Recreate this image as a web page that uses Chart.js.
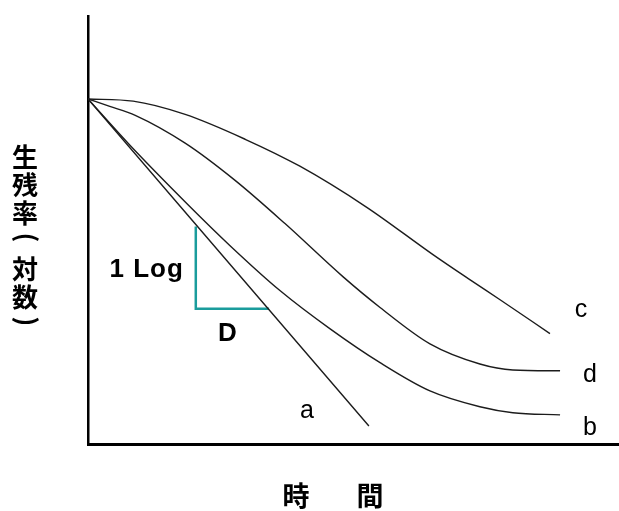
<!DOCTYPE html>
<html>
<head>
<meta charset="utf-8">
<script src="https://cdn.jsdelivr.net/npm/chart.js@4.4.1/dist/chart.umd.min.js"></script>
<style>
  html, body { margin: 0; padding: 0; background: #fff; }
  #wrap { width: 619px; height: 511px; }
</style>
</head>
<body>
<div id="wrap"><canvas id="c"></canvas></div>
<script>
// ── DATA (時間 0–100, 生残率 0–100, 任意単位) ─────────
const curveNames = ['a', 'b', 'c', 'd'];

const curveA = [ { x: 0, y: 80.6 }, { x: 52.9, y: 4.2 } ];
const curveB = [
  { x: 0, y: 80.6 }, { x: 7.9, y: 69.8 }, { x: 18.6, y: 56.2 }, { x: 26.7, y: 46.4 },
  { x: 36.2, y: 35.8 }, { x: 45.6, y: 26.9 }, { x: 55.0, y: 19.0 }, { x: 64.4, y: 12.4 },
  { x: 73.8, y: 8.7 }, { x: 80.0, y: 7.3 }, { x: 88.9, y: 6.8 }
];
const curveC = [
  { x: 0, y: 80.6 }, { x: 8.5, y: 80.1 }, { x: 18.3, y: 77.0 }, { x: 29.6, y: 71.2 },
  { x: 39.9, y: 64.9 }, { x: 52.5, y: 55.3 }, { x: 64.9, y: 44.3 }, { x: 71.9, y: 38.4 },
  { x: 77.6, y: 33.7 }, { x: 87.0, y: 25.8 }
];
const curveD = [
  { x: 0, y: 80.6 }, { x: 4.1, y: 78.9 }, { x: 8.9, y: 76.8 }, { x: 18.3, y: 70.3 },
  { x: 27.7, y: 61.6 }, { x: 37.1, y: 51.5 }, { x: 48.0, y: 39.1 }, { x: 55.0, y: 31.9 },
  { x: 64.4, y: 23.4 }, { x: 73.8, y: 18.7 }, { x: 80.0, y: 17.3 }, { x: 88.9, y: 17.1 }
];
// D値の三角形 (1 Log 低下に要する時間)
const dTriangle = [ { x: 20.3, y: 50.8 }, { x: 20.3, y: 31.6 }, { x: 34.1, y: 31.6 } ];

const yTitle = ['生', '残', '率', '(', '対', '数', ')'];
const xTitle = ['時', '間'];

// ラベル位置: 曲線の終点からのずれ (px)
const endLabelOffset = {
  a: [-62, -8],
  b: [30, 20],
  c: [31, -17],
  d: [30, 11],
};

const curveSets = [curveA, curveB, curveC, curveD];

// ── 文字描画プラグイン ─────────────────────────────
const textPlugin = {
  id: 'texts',
  afterDraw(chart) {
    const ctx = chart.ctx;
    const xs = chart.scales.x, ys = chart.scales.y;
    ctx.save();
    ctx.fillStyle = '#000';

    // 曲線ラベル
    ctx.font = '25px "Liberation Sans", Arial, sans-serif';
    ctx.textAlign = 'center';
    ctx.textBaseline = 'alphabetic';
    curveNames.forEach((n, i) => {
      const pts = curveSets[i];
      const last = pts[pts.length - 1];
      const off = endLabelOffset[n];
      ctx.fillText(n, xs.getPixelForValue(last.x) + off[0], ys.getPixelForValue(last.y) + off[1]);
    });

    // 三角形ラベル
    const vx = xs.getPixelForValue(dTriangle[0].x);
    const vTop = ys.getPixelForValue(dTriangle[0].y);
    const vBot = ys.getPixelForValue(dTriangle[1].y);
    const hEnd = xs.getPixelForValue(dTriangle[2].x);
    ctx.font = 'bold 26px "Liberation Sans", Arial, sans-serif';
    ctx.letterSpacing = '1px';
    ctx.textAlign = 'right';
    ctx.fillText('1 Log', vx - 12, vTop + 50);
    ctx.letterSpacing = '0px';
    ctx.textAlign = 'center';
    ctx.fillText('D', (vx + hEnd) / 2 - 5, vBot + 32);

    // 縦軸タイトル (縦書き、括弧は90°回転して字形の中心を合わせる)
    ctx.font = 'bold 26px "Noto Sans CJK JP", sans-serif';
    yTitle.forEach((ch, i) => {
      const y = 157 + i * 28;
      if (ch === '(' || ch === ')') {
        ctx.save();
        ctx.textAlign = 'left';
        ctx.textBaseline = 'alphabetic';
        const m = ctx.measureText(ch);
        const cx = (m.actualBoundingBoxRight - m.actualBoundingBoxLeft) / 2;
        const cy = (m.actualBoundingBoxDescent - m.actualBoundingBoxAscent) / 2;
        ctx.translate(25, ch === '(' ? y - 3 : y - 4);
        ctx.rotate(Math.PI / 2);
        ctx.fillText(ch, -cx, -cy);
        ctx.restore();
      } else {
        ctx.textBaseline = 'middle';
        ctx.fillText(ch, 25, y);
      }
    });

    // 横軸タイトル
    ctx.textBaseline = 'middle';
    ctx.font = 'bold 27px "Noto Sans CJK JP", sans-serif';
    ctx.fillText(xTitle[0], 296, 496);
    ctx.fillText(xTitle[1], 370, 496);
    ctx.restore();
  }
};

const lineStyle = { borderColor: '#1c1c1c', borderWidth: 1.4, pointRadius: 0, cubicInterpolationMode: 'monotone', fill: false };

new Chart(document.getElementById('c'), {
  type: 'line',
  data: {
    datasets: [
      { label: 'a', data: curveA, ...lineStyle, tension: 0 },
      { label: 'b', data: curveB, ...lineStyle },
      { label: 'c', data: curveC, ...lineStyle },
      { label: 'd', data: curveD, ...lineStyle },
      { label: 'D', data: dTriangle, borderColor: '#1a9c9c', borderWidth: 2.5, pointRadius: 0, tension: 0, fill: false, borderJoinStyle: 'miter' },
    ]
  },
  options: {
    responsive: true,
    maintainAspectRatio: false,
    animation: false,
    layout: { padding: { left: 88, right: 0, top: 16, bottom: 67 } },
    scales: {
      x: {
        type: 'linear', min: 0, max: 100,
        grid: { display: false, drawTicks: false },
        ticks: { display: false },
        border: { display: true, color: '#000', width: 3 }
      },
      y: {
        type: 'linear', min: 0, max: 100,
        grid: { display: false, drawTicks: false },
        ticks: { display: false },
        border: { display: true, color: '#000', width: 2.5 }
      }
    },
    plugins: { legend: { display: false }, tooltip: { enabled: false } }
  },
  plugins: [textPlugin]
});
</script>
</body>
</html>
